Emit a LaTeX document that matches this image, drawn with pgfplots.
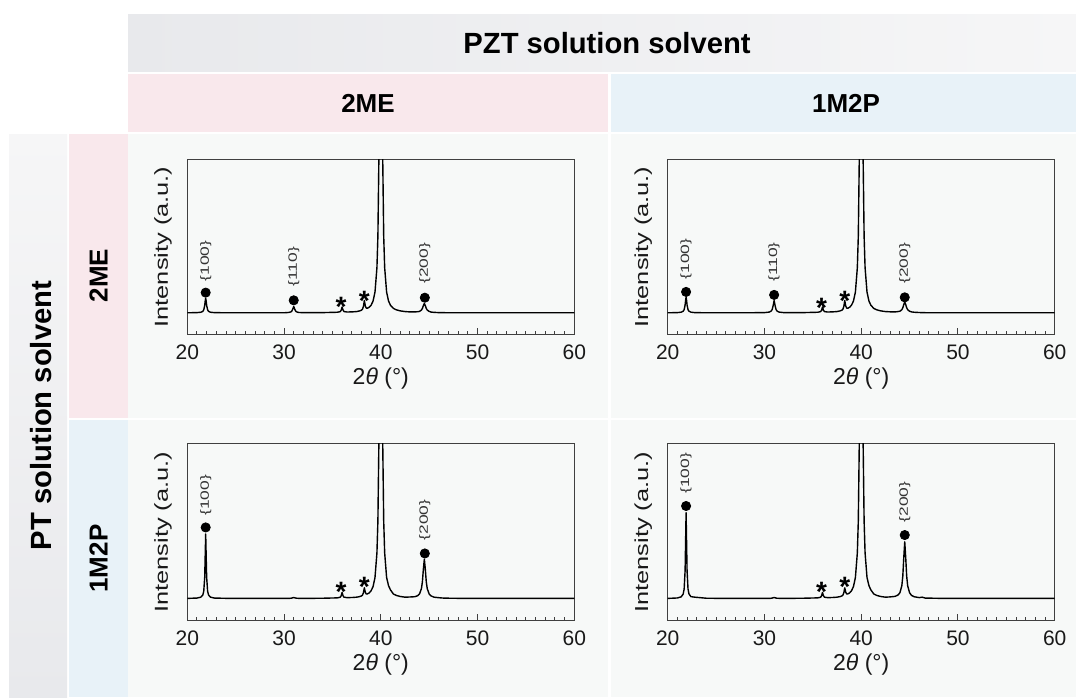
\documentclass[border=0pt]{standalone}
\usepackage{fontspec}
\setmainfont{Liberation Sans}
\usepackage{graphicx}
\usepackage{pgfplots}
\usepackage{pgfplotstable}
\pgfplotsset{compat=1.18}

\definecolor{hdrdark}{HTML}{E8E9EC}
\definecolor{hdrlight}{HTML}{F6F6F7}
\definecolor{pinkbox}{HTML}{F9E8EC}
\definecolor{bluebox}{HTML}{E8F2F8}
\definecolor{panelbg}{HTML}{F7F9F8}

% XRD patterns, intensity in % of the axis height
\pgfplotstableread{
x tl tr bl br
20 12.5 12.5 12.6 12.6
21 12.6 12.6 12.8 12.85
21.4 12.8 12.85 13.3 13.5
21.6 13.3 13.4 14.5 15.1
21.7 14.2 14.3 16.6 17.9
21.8 16.7 16.95 24.6 28.5
21.85 19.1 19.6 36.7 44.7
21.9 20.8 21.4 49.0 61.0
21.95 19.1 19.6 36.7 44.7
22 16.7 16.95 24.6 28.5
22.1 14.2 14.3 16.6 17.9
22.2 13.3 13.4 14.5 15.1
22.4 12.8 12.85 13.3 13.6
22.8 12.6 12.6 12.8 13.3
24 12.5 12.5 12.65 12.7
26 12.5 12.5 12.6 12.6
28 12.5 12.5 12.6 12.6
30 12.5 12.6 12.6 12.6
30.5 12.7 12.9 12.6 12.6
30.7 13.0 13.5 12.7 12.7
30.8 13.45 14.35 12.8 12.8
30.9 14.6 16.6 12.95 12.95
31 16.1 19.5 13.1 13.1
31.1 14.6 16.6 12.95 12.95
31.2 13.45 14.35 12.8 12.8
31.3 13.0 13.5 12.7 12.7
31.5 12.7 12.9 12.65 12.65
32 12.55 12.6 12.6 12.6
34 12.6 12.6 12.7 12.7
35.5 12.8 12.8 12.9 12.9
35.8 13.15 13.15 13.25 13.25
35.9 13.9 13.9 14.05 14.05
36 15.8 15.8 15.95 15.95
36.1 13.95 13.95 14.05 14.05
36.2 13.2 13.2 13.3 13.3
36.5 12.95 12.95 13.05 13.05
37 13.0 13.0 13.1 13.1
37.5 13.2 13.2 13.3 13.3
37.8 13.55 13.55 13.6 13.6
38 13.97 13.97 14.0 14.0
38.1 14.46 14.46 14.4 14.4
38.2 16.0 16.0 15.7 15.7
38.3 19.5 19.5 18.6 18.6
38.4 16.35 16.35 16.05 16.05
38.5 15.16 15.16 15.1 15.1
38.6 15.07 15.07 15.1 15.1
38.8 15.64 15.64 15.7 15.7
39 16.87 16.87 16.95 16.95
39.2 19.2 19.2 19.3 19.3
39.4 24.3 24.3 24.4 24.4
39.6 38.2 38.2 38.3 38.3
39.7 56.2 56.2 56.3 56.3
39.8 99.9 99.9 100 100
39.9 230 230 230 230
40 449 449 449 449
40.1 230 230 230 230
40.2 99.9 99.9 100 100
40.3 56.2 56.2 56.3 56.3
40.4 38.2 38.2 38.3 38.3
40.6 24.3 24.3 24.4 24.4
40.8 19.2 19.2 19.8 19.8
41 16.8 16.8 17.4 17.4
41.3 15.0 15.0 15.1 15.1
41.6 14.2 14.2 14.3 14.3
42 13.6 13.6 13.7 13.7
42.5 13.2 13.2 13.3 13.3
43 13.0 13.05 13.4 13.45
43.5 13.0 13.0 13.55 13.75
43.8 13.1 13.2 14.1 14.5
44 13.3 13.4 15.1 15.8
44.2 14.05 14.25 18.15 19.8
44.3 15.0 15.35 22.0 25.2
44.4 16.6 17.2 29.1 35.7
44.5 17.8 18.6 34.8 44.6
44.6 16.6 17.2 29.1 35.7
44.7 15.0 15.35 22.0 25.2
44.8 14.05 14.25 18.15 19.8
45 13.3 13.4 15.1 15.8
45.2 12.9 13.0 14.0 14.3
45.5 12.75 12.8 13.3 13.5
46 12.6 12.65 13.0 13.05
46.3 12.6 12.6 12.85 13.3
46.6 12.55 12.55 12.75 12.8
48 12.5 12.5 12.65 12.65
50 12.5 12.5 12.6 12.6
52 12.5 12.5 12.6 12.6
54 12.5 12.5 12.6 12.6
56 12.5 12.5 12.6 12.6
58 12.5 12.5 12.6 12.6
60 12.5 12.5 12.6 12.6
}\xrd

\pgfplotsset{
  xrd/.style={
    scale only axis, width=193.5pt,
    xmin=20, xmax=60, ymin=0, ymax=100,
    xtick={20,30,40,50,60}, minor x tick num=9,
    ytick=\empty, xtick pos=left,
    tick align=inside,
    major tick length=3.5pt, minor tick length=2pt,
    axis line style={black!75, line width=0.55pt},
    every tick/.style={black!75, line width=0.5pt},
    /pgf/number format/assume math mode=true,
    tick label style={font=\fontsize{10.5}{12}\selectfont, text=black!90},
    xticklabel style={yshift=-1.3pt},
    xlabel={2\textit{θ} (°)},
    xlabel style={font=\fontsize{11.5}{13}\selectfont, text=black!90, at={(axis description cs:0.5,-0.25)}, anchor=center},
    ylabel={\scalebox{1.35}[1]{Intensity (a.u.)}},
    ylabel style={font=\fontsize{9.4}{11}\selectfont, text=black!90, at={(axis description cs:-0.063,0.5)}, anchor=center},
  },
  curve/.style={black, line width=0.7pt, line join=round},
  dots/.style={only marks, mark=*, mark size=2.3pt, black},
  stars/.style={only marks, mark=text, text mark as node=true,
    text mark={\bfseries\fontsize{14}{14}\selectfont *},
    text mark style={yshift=-3.2pt, inner sep=0pt}},
}
\tikzset{
  lbl/.style={rotate=90, anchor=west, inner sep=0pt, text=black!80, font=\fontsize{6}{7}\selectfont},
}

\begin{document}
\begin{tikzpicture}
\begin{scope}[x=0.5pt, y=0.5pt]
  \fill[white] (0,0) rectangle (1076,-697);
  \shade[left color=hdrdark, right color=hdrlight] (128,-14) rectangle (1076,-71.5);
  \fill[pinkbox] (128,-74) rectangle (607.5,-131.5);
  \fill[bluebox] (610.5,-74) rectangle (1076,-131.5);
  \shade[top color=hdrlight, bottom color=hdrdark] (9,-134) rectangle (67,-697);
  \fill[pinkbox] (69,-134) rectangle (127.5,-417.5);
  \fill[bluebox] (69,-420) rectangle (127.5,-697);
  \fill[panelbg] (128,-134) rectangle (607.5,-417.5);
  \fill[panelbg] (610.5,-134) rectangle (1076,-417.5);
  \fill[panelbg] (128,-420) rectangle (607.5,-697);
  \fill[panelbg] (610.5,-420) rectangle (1076,-697);
  \node[font=\bfseries\fontsize{14.6}{16}\selectfont] at (607,-43) {PZT solution solvent};
  \node[font=\bfseries\fontsize{13}{15}\selectfont] at (368,-103) {2ME};
  \node[font=\bfseries\fontsize{13}{15}\selectfont] at (846,-103) {1M2P};
  \node[rotate=90, font=\bfseries\fontsize{14.6}{16}\selectfont] at (41,-415.5) {PT solution solvent};
  \node[rotate=90, font=\bfseries\fontsize{13}{15}\selectfont] at (98.5,-275.7) {2ME};
  \node[rotate=90, font=\bfseries\fontsize{13}{15}\selectfont] at (98.5,-558.5) {1M2P};
\end{scope}

% PT 2ME / PZT 2ME
\begin{axis}[xrd, at={(93.65pt,-79.65pt)}, anchor=north west, height=87.7pt]
\addplot[curve] table[x=x, y=tl] {\xrd};
\addplot[dots] coordinates {(21.9,24.0) (31.0,19.6) (44.55,21.1)};
\addplot[stars] coordinates {(35.9,19.4) (38.3,23.2)};
\node[lbl] at (axis cs:21.9,30.2) {\scalebox{1.45}[1]{\{100\}}};
\node[lbl] at (axis cs:31.0,27.4) {\scalebox{1.45}[1]{\{110\}}};
\node[lbl] at (axis cs:44.55,28.9) {\scalebox{1.45}[1]{\{200\}}};
\end{axis}

% PT 2ME / PZT 1M2P
\begin{axis}[xrd, at={(333.85pt,-79.65pt)}, anchor=north west, height=87.7pt]
\addplot[curve] table[x=x, y=tr] {\xrd};
\addplot[dots] coordinates {(21.9,24.4) (31.0,22.7) (44.5,21.3)};
\addplot[stars] coordinates {(35.9,19.0) (38.3,23.0)};
\node[lbl] at (axis cs:21.9,31.4) {\scalebox{1.45}[1]{\{100\}}};
\node[lbl] at (axis cs:31.0,30.0) {\scalebox{1.45}[1]{\{110\}}};
\node[lbl] at (axis cs:44.5,28.8) {\scalebox{1.45}[1]{\{200\}}};
\end{axis}

% PT 1M2P / PZT 2ME
\begin{axis}[xrd, at={(93.65pt,-221.85pt)}, anchor=north west, height=88.5pt]
\addplot[curve] table[x=x, y=bl] {\xrd};
\addplot[dots] coordinates {(21.9,52.7) (44.55,38.0)};
\addplot[stars] coordinates {(35.9,20.0) (38.3,22.8)};
\node[lbl] at (axis cs:21.9,59.1) {\scalebox{1.45}[1]{\{100\}}};
\node[lbl] at (axis cs:44.55,45.2) {\scalebox{1.45}[1]{\{200\}}};
\end{axis}

% PT 1M2P / PZT 1M2P
\begin{axis}[xrd, at={(333.85pt,-221.85pt)}, anchor=north west, height=88.5pt]
\addplot[curve] table[x=x, y=br] {\xrd};
\addplot[dots] coordinates {(21.9,64.8) (44.5,48.4)};
\addplot[stars] coordinates {(35.9,20.0) (38.3,22.8)};
\node[lbl] at (axis cs:21.9,71.6) {\scalebox{1.45}[1]{\{100\}}};
\node[lbl] at (axis cs:44.5,55.4) {\scalebox{1.45}[1]{\{200\}}};
\end{axis}
\end{tikzpicture}
\end{document}
